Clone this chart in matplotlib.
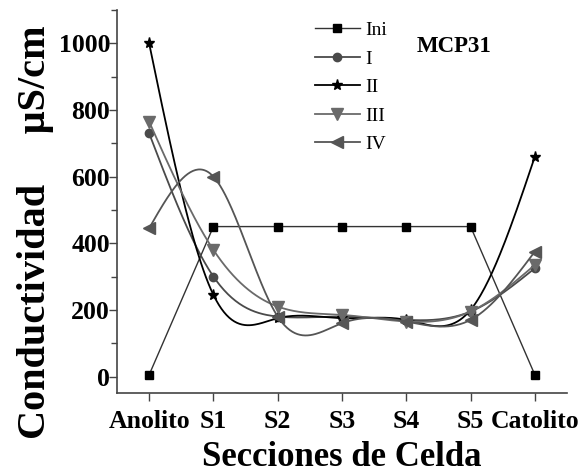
import matplotlib
matplotlib.use("Agg")
import matplotlib.pyplot as plt
import numpy as np
from matplotlib.ticker import MultipleLocator

# sections of the cell
secciones = ["Anolito", "S1", "S2", "S3", "S4", "S5", "Catolito"]

# conductivity (uS/cm)
ini = [5, 450, 450, 450, 450, 450, 5]
s_I = [730, 300, 180, 180, 170, 195, 325]
s_II = [1000, 245, 175, 175, 170, 200, 660]
s_III = [765, 380, 210, 185, 165, 195, 335]
s_IV = [445, 600, 180, 160, 165, 170, 375]


def natural_spline(x, y, npts=300):
    # natural cubic spline, like Origin's "spline" connection
    x = np.asarray(x, float)
    y = np.asarray(y, float)
    n = len(x)
    h = np.diff(x)
    A = np.zeros((n, n))
    b = np.zeros(n)
    A[0, 0] = 1
    A[-1, -1] = 1
    for i in range(1, n - 1):
        A[i, i - 1] = h[i - 1]
        A[i, i] = 2 * (h[i - 1] + h[i])
        A[i, i + 1] = h[i]
        b[i] = 6 * ((y[i + 1] - y[i]) / h[i] - (y[i] - y[i - 1]) / h[i - 1])
    M = np.linalg.solve(A, b)
    xs = np.linspace(x[0], x[-1], npts)
    idx = np.clip(np.searchsorted(x, xs) - 1, 0, n - 2)
    x0, x1 = x[idx], x[idx + 1]
    hh = x1 - x0
    ys = (M[idx] * (x1 - xs) ** 3 / (6 * hh) + M[idx + 1] * (xs - x0) ** 3 / (6 * hh)
          + (y[idx] / hh - M[idx] * hh / 6) * (x1 - xs)
          + (y[idx + 1] / hh - M[idx + 1] * hh / 6) * (xs - x0))
    return xs, ys


plt.rcParams['font.family'] = ['Liberation Serif', 'DejaVu Serif']

fig = plt.figure(figsize=(5.8, 4.76), dpi=100)
ax = fig.add_axes([0.2017, 0.174, 0.7759, 0.805])

xpos = np.arange(len(secciones))

# Ini: straight segments
ax.plot(xpos, ini, color="#333333", lw=1.0, marker="s", ms=6,
        mfc="black", mec="black", label="Ini")

series = [
    (s_I, "I", "o", "#4a4a4a", 6),
    (s_II, "II", "*", "black", 8),
    (s_III, "III", "v", "#6a6a6a", 8),
    (s_IV, "IV", "<", "#555555", 8),
]
for vals, name, mk, col, ms in series:
    xs, ys = natural_spline(xpos, vals)
    ax.plot(xs, ys, color=col, lw=1.3)
    ax.plot(xpos, vals, ls="none", marker=mk, ms=ms, color=col)
    # legend proxy
    ax.plot([], [], color=col, lw=1.3, marker=mk, ms=ms, label=name)

ax.set_xlim(-0.5, 6.5)
ax.set_ylim(-50, 1100)
ax.set_xticks(xpos)
ax.set_xticklabels(secciones)
ax.yaxis.set_major_locator(MultipleLocator(200))
ax.yaxis.set_minor_locator(MultipleLocator(100))
ax.set_yticks([0, 200, 400, 600, 800, 1000])

for sp in ["top", "right"]:
    ax.spines[sp].set_visible(False)
for sp in ["left", "bottom"]:
    ax.spines[sp].set_color("#444444")
    ax.spines[sp].set_linewidth(1.2)

ax.tick_params(axis="both", direction="out", length=6, width=1, color="#444444",
               labelsize=18.5)
ax.tick_params(axis="y", pad=-1)
ax.tick_params(axis="x", pad=6)
ax.tick_params(axis="y", which="minor", direction="out", length=4, width=1, color="#444444")
for lab in ax.get_xticklabels() + ax.get_yticklabels():
    lab.set_fontweight("bold")

ax.set_xlabel("Secciones de Celda", fontsize=25, fontweight="bold", labelpad=6)
ax.set_ylabel("Conductividad     \u03bcS/cm", fontsize=29, fontweight="bold")
ax.yaxis.set_label_coords(-0.14, 0.42)

ax.text(0.75, 0.905, "MCP31", transform=ax.transAxes, fontsize=16.5,
        fontweight="bold", ha="center", va="center")

handles, labels = ax.get_legend_handles_labels()
leg = ax.legend(handles, labels, loc="upper left", bbox_to_anchor=(0.414, 1.0),
                frameon=False, fontsize=14, handlelength=2.3, labelspacing=0.56,
                handletextpad=0.3, borderaxespad=0.2)

fig.savefig("out.png", dpi=100)
